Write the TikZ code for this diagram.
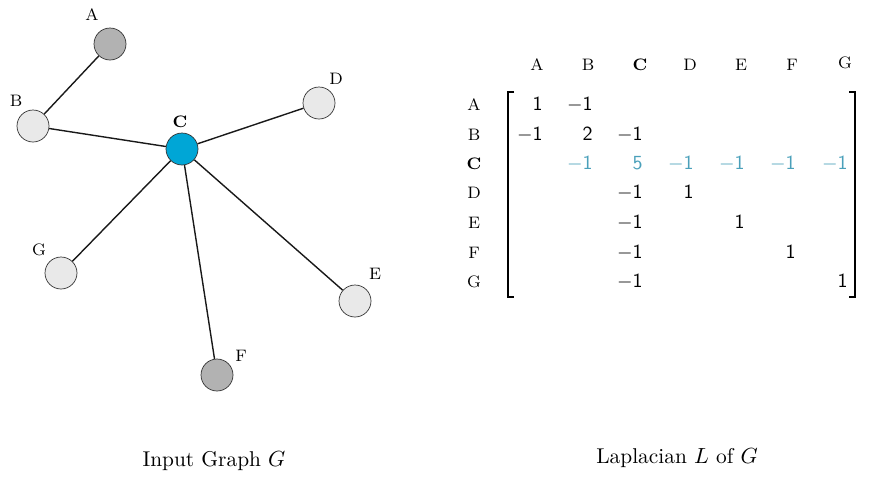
\documentclass[tikz,border=0pt]{standalone}
\usepackage{amsmath}
\definecolor{cnode}{RGB}{0,166,214}
\definecolor{crow}{RGB}{74,160,186}
\definecolor{gdark}{RGB}{178,178,178}
\definecolor{glight}{RGB}{233,233,233}
\begin{document}
\begin{tikzpicture}[x=0.5pt,y=-0.5pt,
  vtx/.style={circle,draw=black!80,line width=0.35pt,minimum size=16pt,inner sep=0pt},
  vlab/.style={font=\fontsize{8.3}{10}\selectfont,inner sep=0pt},
  edge/.style={line width=0.7pt,black!90},
  ent/.style={anchor=base east,inner sep=0pt,font=\fontsize{10.3}{12}\selectfont},
  hl/.style={ent,text=crow},
  brk/.style={line width=0.65pt},
  captext/.style={font=\fontsize{10.7}{13}\selectfont,inner sep=0pt}]
\useasboundingbox (0,0) rectangle (892,493);
% graph
\node[vtx,fill=gdark] (A) at (110,44) {};
\node[vtx,fill=glight] (B) at (33,126) {};
\node[vtx,fill=cnode] (C) at (182,149) {};
\node[vtx,fill=glight] (D) at (319,103) {};
\node[vtx,fill=glight] (E) at (355,301) {};
\node[vtx,fill=gdark] (F) at (217,375) {};
\node[vtx,fill=glight] (G) at (61,273) {};
\node[vlab] (lA) at (92,15) {A};
\node[vlab] (lB) at (16,101) {B};
\node[vlab] (lC) at (180,122) {\bfseries C};
\node[vlab] (lD) at (336,79) {D};
\node[vlab] (lE) at (375,274) {E};
\node[vlab] (lF) at (241,356) {F};
\node[vlab] (lG) at (39,250) {G};
\draw[edge] (A) -- (B);
\draw[edge] (B) -- (C);
\draw[edge] (C) -- (D);
\draw[edge] (C) -- (E);
\draw[edge] (C) -- (F);
\draw[edge] (C) -- (G);
% matrix labels
\node[vlab] (cA) at (537,65) {A};
\node[vlab] (cB) at (588,65) {B};
\node[vlab] (cC) at (640,65) {\bfseries C};
\node[vlab] (cD) at (690,65) {D};
\node[vlab] (cE) at (741,65) {E};
\node[vlab] (cF) at (792,65) {F};
\node[vlab] (cG) at (845,63) {G};
\node[vlab] (rA) at (474,105) {A};
\node[vlab] (rB) at (474,135) {B};
\node[vlab] (rC) at (474,164) {\bfseries C};
\node[vlab] (rD) at (474,193) {D};
\node[vlab] (rE) at (474,223) {E};
\node[vlab] (rF) at (474,253) {F};
\node[vlab] (rG) at (474,282) {G};
% brackets
\draw[brk] (514,92) -- (508,92) -- (508,297) -- (514,297);
\draw[brk] (849,92) -- (855,92) -- (855,297) -- (849,297);
% entries (right edges of columns)
\node[ent] (m11) at (543,110.5) {$\mathsf{1}$};
\node[ent] (m12) at (593,110.5) {$-\mathsf{1}$};
\node[ent] (m21) at (543,140.5) {$-\mathsf{1}$};
\node[ent] (m22) at (593,140.5) {$\mathsf{2}$};
\node[ent] (m23) at (643,140.5) {$-\mathsf{1}$};
\node[hl] (m32) at (593,169.5) {$-\mathsf{1}$};
\node[hl] (m33) at (643,169.5) {$\mathsf{5}$};
\node[hl] (m34) at (694,169.5) {$-\mathsf{1}$};
\node[hl] (m35) at (745,169.5) {$-\mathsf{1}$};
\node[hl] (m36) at (796,169.5) {$-\mathsf{1}$};
\node[hl] (m37) at (848,169.5) {$-\mathsf{1}$};
\node[ent] (m43) at (643,198.5) {$-\mathsf{1}$};
\node[ent] (m44) at (694,198.5) {$\mathsf{1}$};
\node[ent] (m53) at (643,228.5) {$-\mathsf{1}$};
\node[ent] (m55) at (745,228.5) {$\mathsf{1}$};
\node[ent] (m63) at (643,258.5) {$-\mathsf{1}$};
\node[ent] (m66) at (796,258.5) {$\mathsf{1}$};
\node[ent] (m73) at (643,287.5) {$-\mathsf{1}$};
\node[ent] (m77) at (848,287.5) {$\mathsf{1}$};
% captions
\node[captext] (cap1) at (214,461) {Input Graph $G$};
\node[captext] (cap2) at (677,458) {Laplacian $L$ of $G$};
\end{tikzpicture}
\end{document}
